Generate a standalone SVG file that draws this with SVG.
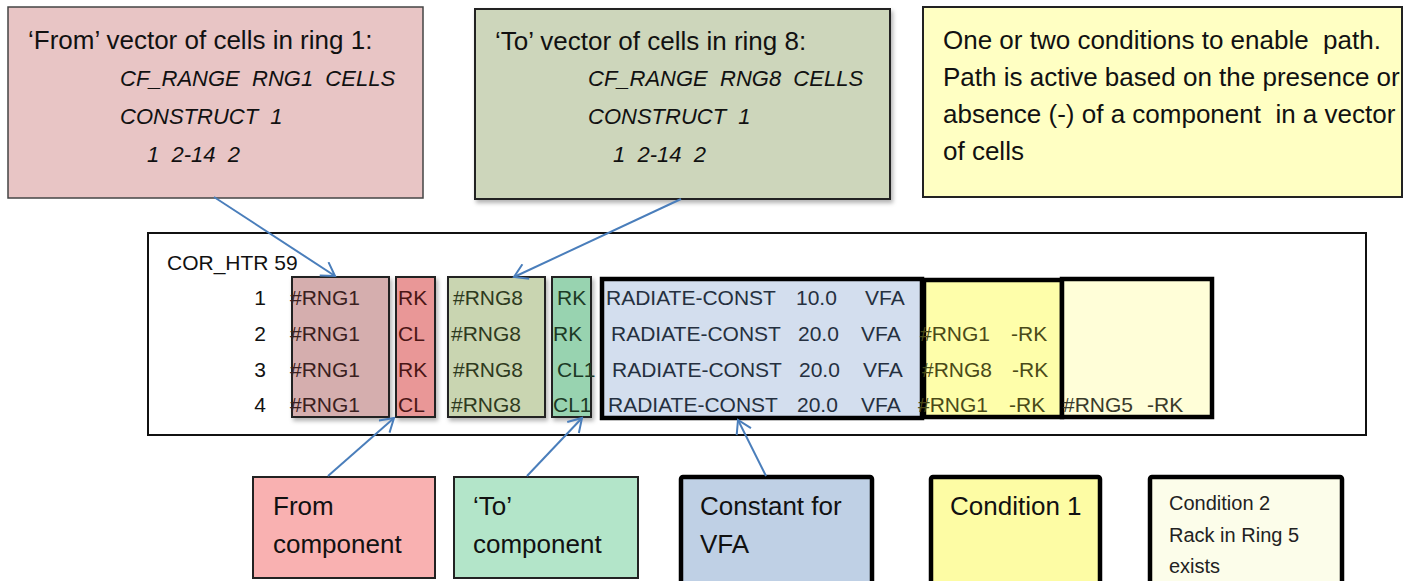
<svg xmlns="http://www.w3.org/2000/svg" width="1403" height="581" viewBox="0 0 1403 581">
<defs>
<style>
text{font-family:"Liberation Sans",Arial,sans-serif;}
.big{font-size:26px;fill:#111;}
.it{font-size:22px;font-style:italic;fill:#111;}
.tb{font-size:21px;}
.small{font-size:20px;fill:#222;}
.thin{stroke:#222;stroke-width:2;}
.thick{stroke:#000;stroke-width:4.5;}
.conn{stroke:#4a7ebb;stroke-width:2;fill:none;marker-end:url(#arr);}
</style>
<marker id="arr" markerUnits="userSpaceOnUse" markerWidth="16" markerHeight="18" refX="14" refY="9" orient="auto">
<path d="M1,1 L14,9 L1,17" fill="none" stroke="#4a7ebb" stroke-width="2"/>
</marker>
<filter id="sh" x="-10%" y="-10%" width="130%" height="130%">
<feDropShadow dx="2" dy="3" stdDeviation="2" flood-color="#000" flood-opacity="0.3"/>
</filter>
</defs>
<rect width="1403" height="581" fill="#fff"/>

<g id="from-vector">
<rect x="8" y="7" width="415" height="191" fill="#e8c5c5" stroke="#444" stroke-width="1.5"/>
<text class="big" x="28" y="49">‘From’ vector of cells in ring 1:</text>
<text class="it" x="120" y="86" xml:space="preserve">CF_RANGE  RNG1  CELLS</text>
<text class="it" x="120" y="124" xml:space="preserve">CONSTRUCT  1</text>
<text class="it" x="147" y="162" xml:space="preserve">1  2-14  2</text>
</g>

<g id="to-vector">
<rect x="475" y="9" width="415" height="190" fill="#cdd6bb" stroke="#222" stroke-width="2" filter="url(#sh)"/>
<text class="big" x="495" y="50">‘To’ vector of cells in ring 8:</text>
<text class="it" x="588" y="86" xml:space="preserve">CF_RANGE  RNG8  CELLS</text>
<text class="it" x="588" y="124" xml:space="preserve">CONSTRUCT  1</text>
<text class="it" x="613" y="162" xml:space="preserve">1  2-14  2</text>
</g>

<g id="conditions-note">
<rect x="923" y="7" width="479" height="190" fill="#ffffc3" stroke="#222" stroke-width="2"/>
<text class="big" x="943" y="49" xml:space="preserve">One or two conditions to enable  path.</text>
<text class="big" x="943" y="86">Path is active based on the presence or</text>
<text class="big" x="943" y="123" xml:space="preserve">absence (-) of a component  in a vector</text>
<text class="big" x="943" y="160">of cells</text>
</g>

<g id="cor-htr">
<rect x="148" y="233" width="1218" height="202" fill="#fff" stroke="#111" stroke-width="2"/>
<text class="tb" x="167" y="270" fill="#111">COR_HTR 59</text>
<g fill="#111" class="tb" text-anchor="end">
<text class="tb" x="266" y="305">1</text>
<text class="tb" x="266" y="341">2</text>
<text class="tb" x="266" y="377">3</text>
<text class="tb" x="266" y="412">4</text>
</g>
</g>

<g id="col-from-vector">
<rect x="292" y="277" width="97" height="140" fill="#d5aeae" class="thin" filter="url(#sh)"/>
<g class="tb" fill="#3a2020">
<text class="tb" x="290" y="305">#RNG1</text>
<text class="tb" x="290" y="341">#RNG1</text>
<text class="tb" x="290" y="377">#RNG1</text>
<text class="tb" x="290" y="412">#RNG1</text>
</g>
</g>

<g id="col-from-component">
<rect x="396" y="277" width="39" height="140" fill="#e99797" class="thin" filter="url(#sh)"/>
<g fill="#4a1515">
<text class="tb" x="398" y="305">RK</text>
<text class="tb" x="398" y="341">CL</text>
<text class="tb" x="398" y="377">RK</text>
<text class="tb" x="398" y="412">CL</text>
</g>
</g>

<g id="col-to-vector">
<rect x="448" y="277" width="97" height="140" fill="#c9d5b1" class="thin" filter="url(#sh)"/>
<g fill="#2e3a1e">
<text class="tb" x="453" y="305">#RNG8</text>
<text class="tb" x="451" y="341">#RNG8</text>
<text class="tb" x="453" y="377">#RNG8</text>
<text class="tb" x="451" y="412">#RNG8</text>
</g>
</g>

<g id="col-to-component">
<rect x="552" y="277" width="39" height="140" fill="#98d3b0" class="thin" filter="url(#sh)"/>
<g fill="#1c3a26">
<text class="tb" x="557" y="305">RK</text>
<text class="tb" x="553" y="341">RK</text>
<text class="tb" x="557" y="377">CL1</text>
<text class="tb" x="553" y="412">CL1</text>
</g>
</g>

<g id="col-constant">
<rect x="602" y="279" width="320" height="139" fill="#d3deee" class="thick"/>
<g fill="#253040">
<text class="tb" x="606" y="305">RADIATE-CONST</text><text class="tb" x="796" y="305">10.0</text><text class="tb" x="865" y="305">VFA</text>
<text class="tb" x="611" y="341">RADIATE-CONST</text><text class="tb" x="798" y="341">20.0</text><text class="tb" x="861" y="341">VFA</text>
<text class="tb" x="612" y="377">RADIATE-CONST</text><text class="tb" x="799" y="377">20.0</text><text class="tb" x="863" y="377">VFA</text>
<text class="tb" x="608" y="412">RADIATE-CONST</text><text class="tb" x="797" y="412">20.0</text><text class="tb" x="861" y="412">VFA</text>
</g>
</g>

<g id="col-condition1">
<rect x="924" y="280" width="138" height="137" fill="#fefeaa" class="thick"/>
<g fill="#4a4a18">
<text class="tb" x="920" y="341">#RNG1</text><text class="tb" x="1011" y="341">-RK</text>
<text class="tb" x="922" y="377">#RNG8</text><text class="tb" x="1012" y="377">-RK</text>
<text class="tb" x="918" y="412">#RNG1</text><text class="tb" x="1009" y="412">-RK</text>
</g>
</g>

<g id="col-condition2">
<rect x="1062" y="279" width="150" height="138" fill="#fffed8" class="thick"/>
<g fill="#3a3a2a">
<text class="tb" x="1063" y="412">#RNG5</text><text class="tb" x="1147" y="412">-RK</text>
</g>
</g>

<g id="from-component">
<rect x="253" y="477" width="182" height="101" fill="#f9b1b1" class="thin"/>
<text class="big" x="273" y="515">From</text>
<text class="big" x="273" y="553">component</text>
</g>

<g id="to-component">
<rect x="454" y="477" width="184" height="101" fill="#b3e5c9" class="thin"/>
<text class="big" x="473" y="515">‘To’</text>
<text class="big" x="473" y="553">component</text>
</g>

<g id="constant-vfa">
<rect x="681" y="477" width="191" height="120" rx="2" fill="#bfd0e5" class="thick"/>
<text class="big" x="700" y="515">Constant for</text>
<text class="big" x="700" y="553">VFA</text>
</g>

<g id="condition-1">
<rect x="931" y="477" width="169" height="120" rx="2" fill="#fdfca4" class="thick"/>
<text class="big" x="950" y="515">Condition 1</text>
</g>

<g id="condition-2">
<rect x="1150" y="477" width="192" height="120" rx="2" fill="#fcfdea" class="thick"/>
<text class="small" x="1169" y="510">Condition 2</text>
<text class="small" x="1169" y="542">Rack in Ring 5</text>
<text class="small" x="1169" y="573">exists</text>
</g>

<g id="connectors">
<line class="conn" x1="214" y1="197" x2="335" y2="276"/>
<line class="conn" x1="681" y1="199" x2="514" y2="277"/>
<line class="conn" x1="328" y1="476" x2="394" y2="418"/>
<line class="conn" x1="527" y1="476" x2="582" y2="418"/>
<line class="conn" x1="766" y1="476" x2="738" y2="420"/>
</g>
</svg>
